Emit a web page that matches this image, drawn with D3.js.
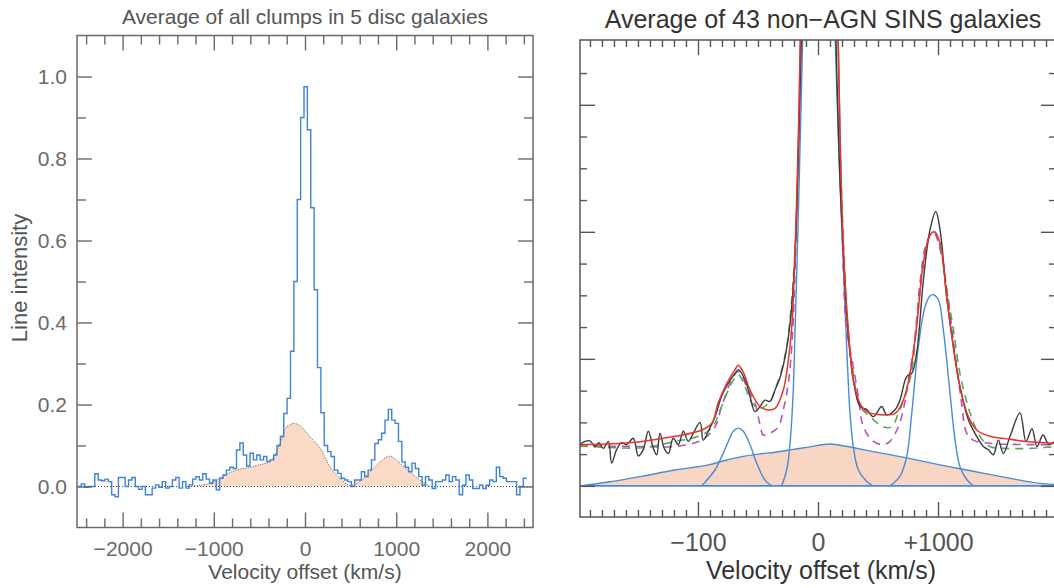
<!DOCTYPE html>
<html>
<head>
<meta charset="utf-8">
<script src="https://cdn.jsdelivr.net/npm/d3@7"></script>
<style>
  body { margin: 0; background: #fff; }
  svg text { font-family: "Liberation Sans", Arial, sans-serif; }
</style>
</head>
<body>
<svg id="chart" width="1054" height="588"></svg>
<script>
// ---- left panel: average of clumps (binned spectrum) ----
const binStart = -2490;   // km/s, left edge of first bin
const binWidth = 37;      // km/s
const clumpFlux = [
  0.0, 0.006, -0.002, 0.0, 0.0, 0.031, 0.016, 0.014, 0.018, 0.012,
  -0.02, -0.025, 0.022, 0.022, 0.0, 0.016, 0.022, 0.0, -0.007, 0.0,
  -0.02, -0.02, -0.004, 0.004, -0.002, 0.012, -0.004, 0.0, 0.016, 0.022,
  -0.004, 0.012, -0.004, 0.004, 0.018, 0.024, 0.016, 0.031, 0.018, 0.008,
  0.016, -0.008, 0.02, 0.028, 0.04, 0.047, 0.044, 0.089, 0.106, 0.077,
  0.05, 0.081, 0.065, 0.077, 0.065, 0.073, 0.061, 0.065, 0.077, 0.1,
  0.122, 0.178, 0.215, 0.33, 0.50, 0.70, 0.90, 0.975, 0.87, 0.68,
  0.48, 0.29, 0.18, 0.10, 0.085, 0.073, 0.04, 0.032, 0.02, 0.016,
  0.012, 0.0, 0.016, 0.016, 0.036, 0.024, 0.04, 0.065, 0.105, 0.114,
  0.13, 0.162, 0.188, 0.162, 0.154, 0.11, 0.06, 0.047, 0.036, 0.057,
  0.044, 0.024, 0.003, 0.024, 0.016, -0.005, 0.012, 0.012, 0.016, 0.028,
  0.012, 0.024, 0.016, -0.02, 0.003, 0.028, 0.016, -0.005, -0.005, 0.003,
  -0.005, 0.003, 0.016, 0.012, 0.047, 0.024, 0.02, 0.012, 0.012, 0.012,
  -0.02, 0.0, 0.02
];
// broad component under the clump spectrum [velocity, intensity]
const clumpBroad = [
  [-1300, 0], [-1188, 0.002], [-1042, 0.008], [-932, 0.02], [-822, 0.034], [-713, 0.042],
  [-603, 0.047], [-493, 0.053], [-384, 0.061], [-329, 0.077], [-274, 0.106], [-201, 0.146],
  [-164, 0.15], [-128, 0.154], [-55, 0.148], [55, 0.121], [164, 0.094], [274, 0.048],
  [384, 0.02], [493, 0.003], [603, 0.012], [713, 0.036], [822, 0.06], [932, 0.074],
  [1042, 0.057], [1151, 0.036], [1261, 0.016], [1370, 0]
];
const leftTicksX = [-2000, -1000, 0, 1000, 2000];
const leftTicksY = [0, 0.2, 0.4, 0.6, 0.8, 1.0];

// ---- right panel: average of 43 SINS galaxies [velocity, intensity] ----
const sinsObserved = [
  [-1983, 0.065], [-1942, 0.070], [-1900, 0.071], [-1858, 0.062], [-1825, 0.068], [-1789, 0.059],
  [-1747, 0.070], [-1719, 0.036], [-1678, 0.057], [-1636, 0.068], [-1594, 0.065], [-1539, 0.075],
  [-1497, 0.047], [-1456, 0.057], [-1414, 0.086], [-1372, 0.059], [-1344, 0.049], [-1317, 0.083],
  [-1281, 0.059], [-1247, 0.051], [-1206, 0.075], [-1164, 0.065], [-1122, 0.086], [-1081, 0.070],
  [-1039, 0.083], [-983, 0.100], [-956, 0.072], [-914, 0.086], [-858, 0.109], [-803, 0.141],
  [-747, 0.162], [-692, 0.177], [-664, 0.183], [-608, 0.167], [-567, 0.141], [-525, 0.117],
  [-483, 0.125], [-442, 0.135], [-400, 0.133], [-358, 0.151], [-317, 0.17], [-267, 0.21],
  [-225, 0.27], [-192, 0.36], [-167, 0.50], [-150, 0.62], [-133, 0.75], [-100, 1.1],
  [8, 1.7], [120, 1.1], [150, 0.70], [167, 0.58], [183, 0.48], [211, 0.37], [239, 0.27],
  [267, 0.209], [294, 0.167], [350, 0.125], [406, 0.12], [461, 0.109], [531, 0.125],
  [572, 0.112], [642, 0.12], [683, 0.135], [739, 0.172], [781, 0.177], [822, 0.209],
  [878, 0.324], [933, 0.403], [981, 0.432], [1017, 0.403], [1072, 0.298], [1128, 0.219],
  [1183, 0.156], [1253, 0.104], [1322, 0.078], [1378, 0.062], [1419, 0.057], [1461, 0.049],
  [1503, 0.072], [1544, 0.051], [1600, 0.078], [1683, 0.115], [1733, 0.07], [1783, 0.09],
  [1825, 0.062], [1875, 0.08], [1925, 0.065], [1983, 0.072]
];
const sinsFit = [
  [-1983, 0.065], [-1750, 0.066], [-1467, 0.070], [-1192, 0.078], [-967, 0.088], [-883, 0.099],
  [-833, 0.13], [-758, 0.162], [-692, 0.183], [-664, 0.19], [-620, 0.178], [-567, 0.151],
  [-483, 0.125], [-428, 0.12], [-358, 0.122], [-289, 0.151], [-247, 0.198], [-219, 0.25],
  [-195, 0.35], [-175, 0.47], [-160, 0.58], [-148, 0.70], [-100, 1.1], [8, 1.7], [120, 1.1],
  [168, 0.70], [188, 0.52], [211, 0.377], [253, 0.246], [294, 0.167], [350, 0.130],
  [406, 0.117], [517, 0.112], [642, 0.114], [711, 0.135], [767, 0.177], [822, 0.251],
  [878, 0.351], [933, 0.395], [969, 0.40], [1017, 0.382], [1072, 0.298], [1128, 0.219],
  [1183, 0.156], [1253, 0.109], [1322, 0.088], [1433, 0.078], [1572, 0.074], [1739, 0.070],
  [1983, 0.067]
];
const sinsFitAlt = [
  [-1983, 0.063], [-1472, 0.060], [-1192, 0.070], [-997, 0.078], [-886, 0.091], [-803, 0.125],
  [-719, 0.162], [-664, 0.175], [-608, 0.156], [-553, 0.131], [-483, 0.122], [-400, 0.133],
  [-344, 0.159], [-303, 0.183], [-260, 0.22], [-225, 0.28], [-192, 0.37], [-167, 0.50],
  [-148, 0.68], [-100, 1.1], [8, 1.7], [120, 1.1], [168, 0.70], [190, 0.50], [215, 0.37],
  [240, 0.27], [267, 0.21], [294, 0.177], [350, 0.125], [433, 0.109], [544, 0.093],
  [614, 0.093], [669, 0.114], [725, 0.141], [780, 0.18], [830, 0.27], [880, 0.35],
  [935, 0.395], [970, 0.40], [1020, 0.375], [1072, 0.31], [1128, 0.246], [1183, 0.177],
  [1267, 0.115], [1350, 0.078], [1433, 0.062], [1572, 0.059], [1767, 0.059], [1983, 0.062]
];
const sinsNarrowOnly = [
  [-1983, 0.063], [-1472, 0.062], [-1192, 0.062], [-969, 0.072], [-858, 0.093], [-803, 0.125],
  [-719, 0.167], [-664, 0.18], [-581, 0.151], [-525, 0.13], [-483, 0.096], [-456, 0.08],
  [-400, 0.083], [-331, 0.093], [-289, 0.12], [-247, 0.162], [-215, 0.23], [-190, 0.35],
  [-168, 0.50], [-150, 0.66], [-100, 1.1], [8, 1.7], [120, 1.1], [168, 0.70], [188, 0.50],
  [210, 0.35], [235, 0.25], [294, 0.188], [336, 0.141], [378, 0.093], [461, 0.070],
  [544, 0.065], [600, 0.070], [669, 0.093], [711, 0.12], [753, 0.167], [800, 0.22],
  [850, 0.32], [900, 0.38], [960, 0.40], [1020, 0.37], [1080, 0.30], [1140, 0.21],
  [1190, 0.14], [1239, 0.083], [1294, 0.072], [1433, 0.067], [1739, 0.065], [1983, 0.065]
];
const sinsNII6548 = [
  [-969, 0], [-858, 0.025], [-803, 0.046], [-747, 0.07], [-706, 0.086], [-664, 0.091],
  [-622, 0.086], [-567, 0.065], [-511, 0.036], [-442, 0.009], [-386, 0]
];
const sinsHalpha = [
  [-303, 0], [-261, 0.025], [-233, 0.067], [-206, 0.151], [-192, 0.24], [-175, 0.35],
  [-158, 0.47], [-128, 0.70], [-60, 1.3], [8, 1.6], [75, 1.3], [144, 0.70], [183, 0.48],
  [239, 0.219], [267, 0.114], [294, 0.062], [336, 0.025], [406, 0.007], [458, 0]
];
const sinsNII6583 = [
  [600, 0], [683, 0.015], [739, 0.046], [781, 0.114], [836, 0.219], [892, 0.282],
  [933, 0.299], [961, 0.301], [1003, 0.293], [1044, 0.246], [1100, 0.146], [1142, 0.072],
  [1183, 0.03], [1239, 0.01], [1294, 0]
];
const sinsBroad = [
  [-1983, 0], [-1747, 0.006], [-1469, 0.015], [-1192, 0.025], [-914, 0.033], [-775, 0.04],
  [-636, 0.046], [-497, 0.05], [-358, 0.053], [-219, 0.057], [-81, 0.061], [100, 0.066],
  [183, 0.064], [461, 0.054], [739, 0.044], [1017, 0.033], [1294, 0.023], [1572, 0.013],
  [1850, 0.004], [1983, 0.002]
];
const rightTicksX = [-1000, 0, 1000];
const rightTickLabels = ["\u2212100", "0", "+1000"];
const rightTicksY = [0, 0.2, 0.4, 0.6];

const svg = d3.select("#chart");

// scales
const boxL = { x0: 77, x1: 533, y0: 35.5, y1: 527.5 };
const xL = d3.scaleLinear().domain([-2500, 2500]).range([boxL.x0, boxL.x1]);
const yL = d3.scaleLinear().domain([-0.1, 1.1]).range([boxL.y1, boxL.y0]);

const boxR = { x0: 580, x1: 1056, y0: 40, y1: 517 };
const xR = d3.scaleLinear().domain([-1983, 1983]).range([boxR.x0, boxR.x1]);
const yR = d3.scaleLinear().domain([-0.049, 0.702]).range([boxR.y1, boxR.y0]);

// draws the box with inward ticks on all four sides
function frame(box, x, y, o) {
  const g = svg.append("g").attr("color", o.color);
  const add = (axis, tx, ty) => {
    const a = g.append("g").attr("transform", `translate(${tx},${ty})`).call(axis);
    a.select(".domain").remove();
    a.selectAll("line").attr("stroke-width", 1.4);
    a.selectAll("text").attr("font-size", o.fontSize).attr("font-family", null);
    return a;
  };
  const none = () => "";
  add(d3.axisBottom(x).tickValues(o.xMinor).tickSize(-o.minor).tickFormat(none), 0, box.y1);
  add(d3.axisBottom(x).tickValues(o.xMajor).tickSize(-o.major).tickPadding(o.padX).tickFormat(o.xFormat), 0, box.y1);
  add(d3.axisTop(x).tickValues(o.xMinor).tickSize(-o.minor).tickFormat(none), 0, box.y0);
  add(d3.axisTop(x).tickValues(o.xMajor).tickSize(-o.major).tickFormat(none), 0, box.y0);
  add(d3.axisLeft(y).tickValues(o.yMinor).tickSize(-o.minor).tickFormat(none), box.x0, 0);
  add(d3.axisLeft(y).tickValues(o.yMajor).tickSize(-o.major).tickPadding(o.padY).tickFormat(o.yFormat || none), box.x0, 0);
  add(d3.axisRight(y).tickValues(o.yMinor).tickSize(-o.minor).tickFormat(none), box.x1, 0);
  add(d3.axisRight(y).tickValues(o.yMajor).tickSize(-o.major).tickFormat(none), box.x1, 0);
  g.append("rect")
    .attr("x", box.x0).attr("y", box.y0)
    .attr("width", box.x1 - box.x0).attr("height", box.y1 - box.y0)
    .attr("fill", "none").attr("stroke", "currentColor").attr("stroke-width", 1.5);
}

function clip(id, box) {
  svg.append("clipPath").attr("id", id).append("rect")
    .attr("x", box.x0).attr("y", box.y0)
    .attr("width", box.x1 - box.x0).attr("height", box.y1 - box.y0);
}
clip("clipL", boxL);
clip("clipR", boxR);

// ---------- left panel ----------
const gL = svg.append("g").attr("clip-path", "url(#clipL)");

gL.append("path")
  .datum(clumpBroad)
  .attr("fill", "#fbdac8")
  .attr("d", d3.area().x(d => xL(d[0])).y0(yL(0)).y1(d => yL(d[1])).curve(d3.curveMonotoneX));

gL.append("line")
  .attr("x1", boxL.x0).attr("x2", boxL.x1)
  .attr("y1", yL(0)).attr("y2", yL(0))
  .attr("stroke", "#444").attr("stroke-width", 1).attr("stroke-dasharray", "1,2");

gL.append("path")
  .datum(clumpBroad)
  .attr("fill", "none").attr("stroke", "#555").attr("stroke-width", 1)
  .attr("stroke-dasharray", "1,1.5")
  .attr("d", d3.line().x(d => xL(d[0])).y(d => yL(d[1])).curve(d3.curveMonotoneX));

const steps = clumpFlux.map((v, i) => [binStart + i * binWidth, v]);
steps.push([binStart + clumpFlux.length * binWidth, clumpFlux[clumpFlux.length - 1]]);
gL.append("path")
  .datum(steps)
  .attr("fill", "none").attr("stroke", "#3f83d4").attr("stroke-width", 1.4)
  .attr("d", d3.line().x(d => xL(d[0])).y(d => yL(d[1])).curve(d3.curveStepAfter));

frame(boxL, xL, yL, {
  color: "#6a6a6a", fontSize: 21, major: 15, minor: 9, padX: 14, padY: 10,
  xMajor: leftTicksX, xMinor: d3.range(-2400, 2401, 200).filter(v => v % 1000 !== 0),
  yMajor: leftTicksY, yMinor: [0.1, 0.3, 0.5, 0.7, 0.9],
  xFormat: d3.format("d"), yFormat: d3.format(".1f")
});

svg.append("text")
  .attr("x", 305).attr("y", 24).attr("text-anchor", "middle")
  .attr("font-size", 21).attr("fill", "#555")
  .text("Average of all clumps in 5 disc galaxies");
svg.append("text")
  .attr("x", 305).attr("y", 579).attr("text-anchor", "middle")
  .attr("font-size", 21).attr("fill", "#555")
  .text("Velocity offset (km/s)");
svg.append("text")
  .attr("transform", "translate(27,278) rotate(-90)").attr("text-anchor", "middle")
  .attr("font-size", 22).attr("fill", "#555")
  .text("Line intensity");

// ---------- right panel ----------
const gR = svg.append("g").attr("clip-path", "url(#clipR)");
const lineR = d3.line().x(d => xR(d[0])).y(d => yR(d[1])).curve(d3.curveCatmullRom.alpha(0.5));

gR.append("path")
  .datum(sinsBroad)
  .attr("fill", "#f9d5c3")
  .attr("d", d3.area().x(d => xR(d[0])).y0(yR(0)).y1(d => yR(d[1])).curve(d3.curveMonotoneX));

gR.append("line")
  .attr("x1", boxR.x0).attr("x2", boxR.x1)
  .attr("y1", yR(0)).attr("y2", yR(0))
  .attr("stroke", "#4a8bd8").attr("stroke-width", 1.6);

gR.append("path")
  .datum(sinsBroad)
  .attr("fill", "none").attr("stroke", "#4a8bd8").attr("stroke-width", 1.4)
  .attr("d", d3.line().x(d => xR(d[0])).y(d => yR(d[1])).curve(d3.curveMonotoneX));

[sinsNII6548, sinsHalpha, sinsNII6583].forEach(c => {
  gR.append("path")
    .datum(c)
    .attr("fill", "none").attr("stroke", "#4a8bd8").attr("stroke-width", 1.4)
    .attr("d", lineR);
});

gR.append("path")
  .datum(sinsNarrowOnly)
  .attr("fill", "none").attr("stroke", "#b455b8").attr("stroke-width", 1.6)
  .attr("stroke-dasharray", "8,6")
  .attr("d", lineR);

gR.append("path")
  .datum(sinsFitAlt)
  .attr("fill", "none").attr("stroke", "#5aa95a").attr("stroke-width", 1.6)
  .attr("stroke-dasharray", "8,6")
  .attr("d", lineR);

gR.append("path")
  .datum(sinsObserved)
  .attr("fill", "none").attr("stroke", "#3a3a3a").attr("stroke-width", 1.4)
  .attr("d", lineR);

gR.append("path")
  .datum(sinsFit)
  .attr("fill", "none").attr("stroke", "#e8342c").attr("stroke-width", 1.5)
  .attr("d", lineR);

frame(boxR, xR, yR, {
  color: "#555", fontSize: 25, major: 15, minor: 7, padX: 16, padY: 10,
  xMajor: rightTicksX, xMinor: d3.range(-1900, 1901, 100).filter(v => v % 1000 !== 0),
  yMajor: rightTicksY, yMinor: d3.range(0.05, 0.70, 0.05).filter(v => Math.round(v * 100) % 20 !== 0),
  xFormat: (d, i) => rightTickLabels[i]
});

svg.append("text")
  .attr("x", 823).attr("y", 28).attr("text-anchor", "middle")
  .attr("font-size", 25).attr("fill", "#333")
  .text("Average of 43 non\u2212AGN SINS galaxies");
svg.append("text")
  .attr("x", 821).attr("y", 579).attr("text-anchor", "middle")
  .attr("font-size", 25).attr("fill", "#333")
  .text("Velocity offset (km/s)");
</script>
</body>
</html>
